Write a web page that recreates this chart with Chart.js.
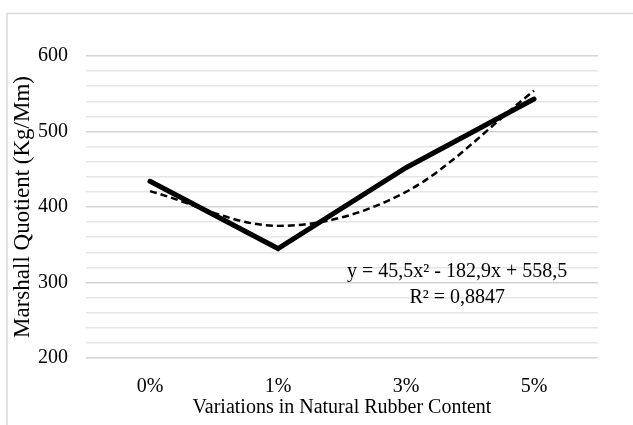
<!DOCTYPE html>
<html>
<head>
<meta charset="utf-8">
<script src="https://cdn.jsdelivr.net/npm/chart.js@4/dist/chart.umd.min.js"></script>
<style>
  html, body { margin: 0; padding: 0; background: #fff; }
  #wrap { width: 633px; height: 425px; position: relative; }
</style>
</head>
<body>
<div id="wrap"><canvas id="mqChart" width="633" height="425"></canvas></div>
<script>
const categories = ['0%', '1%', '3%', '5%'];
const marshallQuotient = [434, 345, 452, 543];
const polyTrend = [421, 375, 420, 554];
const equationLines = ['y = 45,5x\u00b2 - 182,9x + 558,5', 'R\u00b2 = 0,8847'];

const serif = "'Liberation Serif', 'Times New Roman', serif";

const frameAndText = {
    id: 'frameAndText',
    beforeDraw(chart) {
        const c = chart.ctx;
        c.save();
        c.strokeStyle = '#d9d9d9';
        c.lineWidth = 1.5;
        c.beginPath();
        c.moveTo(7, 430);
        c.lineTo(7, 13.5);
        c.lineTo(640, 13.5);
        c.stroke();
        c.restore();
    },
    afterDatasetsDraw(chart) {
        const c = chart.ctx;
        const area = chart.chartArea;
        c.save();
        c.fillStyle = '#000';
        c.font = '20px ' + serif;
        c.textAlign = 'center';
        c.textBaseline = 'middle';
        const cx = area.left + (area.right - area.left) * 0.725;
        c.fillText(equationLines[0], cx, area.top + 216);
        c.fillText(equationLines[1], cx, area.top + 242);
        c.restore();
    }
};

const ctx = document.getElementById('mqChart').getContext('2d');
const mqChart = new Chart(ctx, {
    type: 'line',
    data: {
        labels: categories,
        datasets: [{
                label: 'Marshall Quotient',
                data: marshallQuotient,
                borderColor: '#000',
                borderWidth: 5,
                pointRadius: 0,
                tension: 0,
                borderCapStyle: 'round',
                borderJoinStyle: 'miter'
            },
            {
                label: 'Poly. trend',
                data: polyTrend,
                borderColor: '#000',
                borderWidth: 2.5,
                borderDash: [7, 4],
                pointRadius: 0,
                cubicInterpolationMode: 'monotone'
            }
        ]
    },
    plugins: [frameAndText],
    options: {
        responsive: false,
        animation: false,
        layout: {
            padding: { left: 9, right: 35, top: 56, bottom: 0 }
        },
        plugins: {
            legend: { display: false },
            tooltip: { enabled: false }
        },
        scales: {
            x: {
                offset: true,
                grid: { display: false },
                border: { display: false },
                ticks: {
                    color: '#000',
                    padding: 9,
                    font: { family: serif, size: 20 }
                },
                title: {
                    display: true,
                    text: 'Variations in Natural Rubber Content',
                    color: '#000',
                    padding: { top: 0, bottom: 5 },
                    font: { family: serif, size: 20 }
                },
                afterFit(scale) { scale.height = 67; }
            },
            y: {
                min: 200,
                max: 600,
                grid: {
                    color: (c) => c.tick.value % 100 === 0 ? '#d4d4d4' : '#e6e6e6',
                    lineWidth: 1.5,
                    drawTicks: false
                },
                border: { display: false },
                ticks: {
                    stepSize: 20,
                    autoSkip: false,
                    color: '#000',
                    padding: 18,
                    font: { family: serif, size: 20 },
                    callback: (v) => v % 100 === 0 ? v : ''
                },
                title: {
                    display: true,
                    text: 'Marshall Quotient (Kg/Mm)',
                    color: '#000',
                    padding: { top: 0, bottom: 0 },
                    font: { family: serif, size: 23 }
                },
                afterFit(scale) { scale.width = 77; }
            }
        }
    }
});
</script>
</body>
</html>
